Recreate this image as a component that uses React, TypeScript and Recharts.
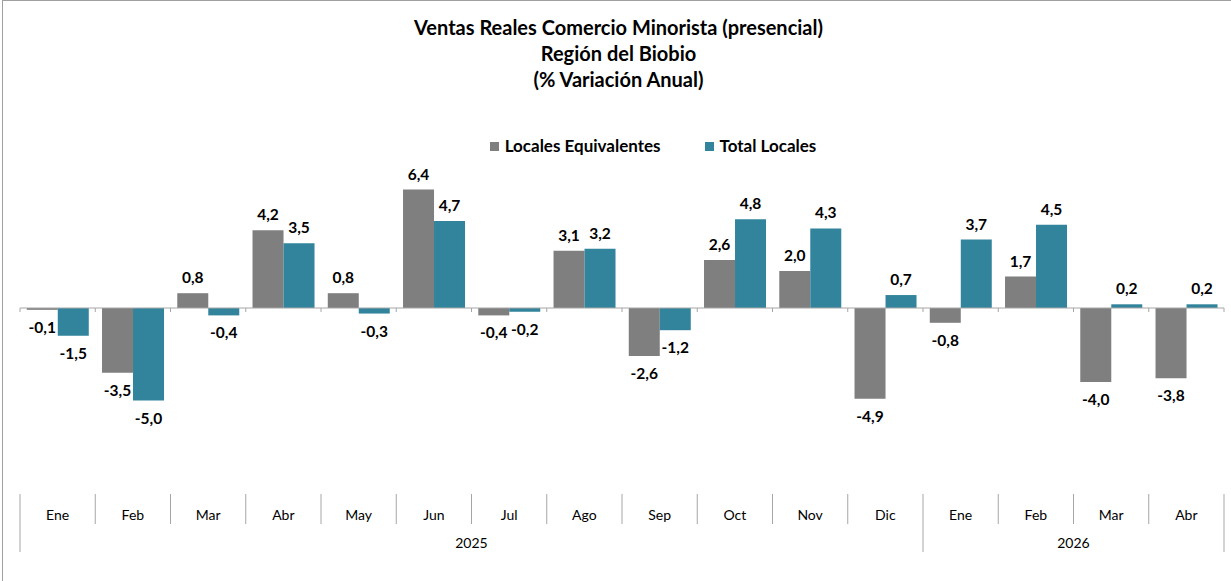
import { BarChart, Bar, XAxis, YAxis, LabelList, ReferenceLine } from 'recharts';

const months = ['Ene', 'Feb', 'Mar', 'Abr', 'May', 'Jun', 'Jul', 'Ago', 'Sep', 'Oct', 'Nov', 'Dic', 'Ene', 'Feb', 'Mar', 'Abr'];
const years = ['2025', '2025', '2025', '2025', '2025', '2025', '2025', '2025', '2025', '2025', '2025', '2025', '2026', '2026', '2026', '2026'];
const localesEquivalentes = [-0.1, -3.5, 0.8, 4.2, 0.8, 6.4, -0.4, 3.1, -2.6, 2.6, 2.0, -4.9, -0.8, 1.7, -4.0, -3.8];
const totalLocales = [-1.5, -5.0, -0.4, 3.5, -0.3, 4.7, -0.2, 3.2, -1.2, 4.8, 4.3, 0.7, 3.7, 4.5, 0.2, 0.2];

const data = months.map((m, i) => ({
  key: `${m}-${years[i]}`,
  equiv: localesEquivalentes[i],
  total: totalLocales[i],
}));

const FONT = 'Lato, "Open Sans", sans-serif';
const GRID = '#a6a6a6';
const GRAY = '#7f7f7f';
const TEAL = '#31849b';

const series = [
  { name: 'Locales Equivalentes', color: GRAY },
  { name: 'Total Locales', color: TEAL },
];

const fmt = (v: number) => v.toFixed(1).replace('.', ',');

const ValueLabel = ({ x, y, width, height, value }: any) => {
  const top = Math.min(y, y + height);
  const bottom = Math.max(y, y + height);
  const cy = value >= 0 ? top - 16 : bottom + 17;
  return (
    <text x={x + width / 2} y={cy} textAnchor="middle" dominantBaseline="central"
      fontFamily={FONT} fontWeight={700} fontSize={15.5} fill="#000">
      {fmt(value)}
    </text>
  );
};

const MonthTick = ({ x, y, payload }: any) => {
  const i = payload.index;
  const half = payload.offset || 0;
  const left = x - half;
  const newYear = i === 0 || years[i] !== years[i - 1];
  const isLast = i === months.length - 1;
  let yearLabel = null;
  if (newYear) {
    let last = i;
    while (last + 1 < years.length && years[last + 1] === years[i]) last++;
    const cx = x + ((i + last) / 2 - i) * half * 2;
    yearLabel = (
      <text x={cx} y={y + 49} textAnchor="middle" dominantBaseline="central" fontFamily={FONT} fontSize={14} fill="#000">
        {years[i]}
      </text>
    );
  }
  return (
    <g>
      <line x1={left} x2={left} y1={y + 1} y2={newYear ? y + 59 : y + 31} stroke={GRID} />
      {isLast && <line x1={x + half} x2={x + half} y1={y + 1} y2={y + 59} stroke={GRID} />}
      <text x={x} y={y + 21} textAnchor="middle" dominantBaseline="central" fontFamily={FONT} fontSize={14} fill="#000">
        {months[i]}
      </text>
      {yearLabel}
    </g>
  );
};

const ZeroLine = (props: any) => {
  const { x1, y1, x2 } = props;
  const step = (x2 - x1) / months.length;
  return (
    <g>
      <line x1={x1} x2={x2} y1={y1} y2={y1} stroke={GRID} />
      {Array.from({ length: months.length + 1 }, (_, k) => (
        <line key={k} x1={x1 + k * step} x2={x1 + k * step} y1={y1} y2={y1 + 4} stroke={GRID} />
      ))}
    </g>
  );
};

export default function App() {
  return (
    <div style={{ position: 'absolute', left: 0, top: 0, width: 1231, height: 581, background: '#fff', overflow: 'hidden' }}>
      <div style={{ position: 'absolute', left: 2, top: 0, width: 1240, height: 600, borderLeft: '1px solid #a0a0a0', borderTop: '1px solid #a0a0a0' }} />
      <div style={{ position: 'absolute', left: 0, top: 14, width: 1237, textAlign: 'center', fontFamily: FONT, fontWeight: 700, fontSize: 20, lineHeight: '26px', color: '#000' }}>
        <div>Ventas Reales Comercio Minorista (presencial)</div>
        <div>Región del Biobio</div>
        <div>(% Variación Anual)</div>
      </div>
      <div style={{ position: 'absolute', top: 135, left: 0, width: 1231, display: 'flex', justifyContent: 'center', paddingLeft: 75, gap: 44, fontFamily: FONT, fontWeight: 700, fontSize: 17, lineHeight: '22px', boxSizing: 'border-box' }}>
        {series.map((s) => (
          <div key={s.name} style={{ display: 'flex', alignItems: 'center' }}>
            <span style={{ width: 9, height: 9, background: s.color, marginRight: 6, display: 'inline-block' }} />
            <span>{s.name}</span>
          </div>
        ))}
      </div>
      <div style={{ position: 'absolute', left: 0, top: 0 }}>
        <BarChart width={1231} height={581} data={data} margin={{ top: 160, right: 7, bottom: 18, left: 20 }}
          barCategoryGap="9%" barGap={0}>
          <YAxis hide domain={[-10, 8]} allowDataOverflow />
          <XAxis dataKey="key" axisLine={false} tickLine={false} tickSize={0} tickMargin={0} height={70}
            interval={0} tick={<MonthTick />} />
          <ReferenceLine y={0} shape={<ZeroLine />} />
          <Bar dataKey="equiv" name={series[0].name} fill={series[0].color} isAnimationActive={false}>
            <LabelList dataKey="equiv" content={<ValueLabel />} />
          </Bar>
          <Bar dataKey="total" name={series[1].name} fill={series[1].color} isAnimationActive={false}>
            <LabelList dataKey="total" content={<ValueLabel />} />
          </Bar>
        </BarChart>
      </div>
    </div>
  );
}
